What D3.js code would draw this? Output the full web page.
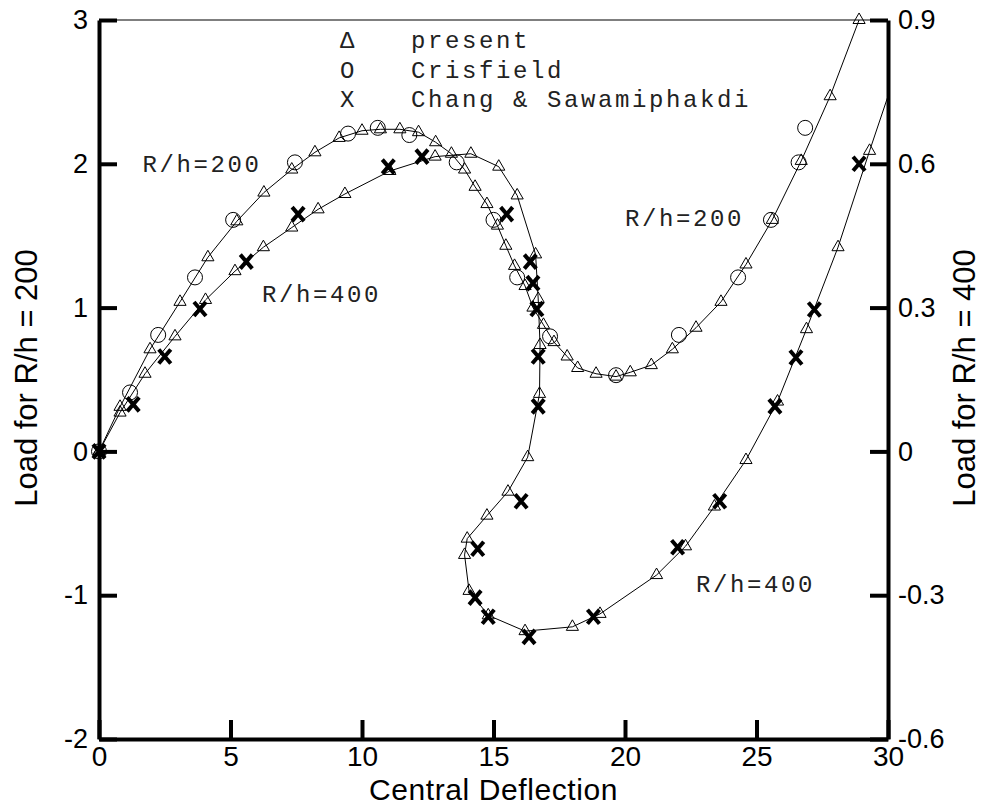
<!DOCTYPE html>
<html>
<head>
<meta charset="utf-8">
<script src="https://cdn.jsdelivr.net/npm/d3@7"></script>
<style>
    body { margin: 0; background: #fff; }
    svg { display: block; }
</style>
</head>
<body>
<svg id="chart" width="981" height="805"></svg>
<script>
// rozsahy os a popisky tiku
const xDomain = [0, 30];
const yLeftDomain = [-2, 3];
const yRightDomain = [-0.6, 0.9];
const xTicks = [0, 5, 10, 15, 20, 25, 30];
const yLeftTicks = [-2, -1, 0, 1, 2, 3];
const yRightTicks = [-0.6, -0.3, 0, 0.3, 0.6, 0.9];

// R/h = 200, present (leva osa) - [deflection, load]
const present200 = [
    [0, 0], [0.8, 0.31], [1.94, 0.71], [3.08, 1.04], [4.14, 1.35], [5.24, 1.60],
    [6.27, 1.80], [7.33, 1.96], [8.21, 2.08], [9.13, 2.18], [10.0, 2.23], [10.7, 2.24],
    [11.44, 2.24], [12.15, 2.22], [12.8, 2.15], [13.4, 2.07], [13.9, 1.96], [14.3, 1.84],
    [14.75, 1.72], [15.15, 1.57], [15.47, 1.43], [15.8, 1.29], [16.2, 1.15], [16.5, 1.0],
    [16.9, 0.88], [17.3, 0.76], [17.8, 0.66], [18.2, 0.58], [18.9, 0.54], [19.66, 0.52],
    [20.2, 0.55], [21.0, 0.60], [21.8, 0.71], [22.7, 0.86], [23.65, 1.04], [24.6, 1.30],
    [25.6, 1.61], [26.7, 2.02], [27.8, 2.47], [28.9, 3.0]
];
// R/h = 200, Crisfield (leva osa)
const crisfield200 = [
    [0, 0], [1.18, 0.41], [2.25, 0.81], [3.65, 1.21], [5.1, 1.61], [7.45, 2.01],
    [9.47, 2.21], [10.6, 2.25], [11.8, 2.2], [13.6, 2.01], [15.0, 1.61], [15.9, 1.21],
    [17.15, 0.80], [19.66, 0.53], [22.05, 0.81], [24.3, 1.21], [25.55, 1.61],
    [26.6, 2.01], [26.85, 2.25]
];
// R/h = 400, present (prava osa)
const present400 = [
    [0, 0], [0.8, 0.081], [1.75, 0.162], [2.89, 0.24], [4.05, 0.316], [5.17, 0.376],
    [6.25, 0.426], [7.33, 0.467], [8.33, 0.505], [9.35, 0.537], [11.06, 0.585],
    [12.78, 0.615], [14.14, 0.621], [15.2, 0.594], [15.9, 0.534], [16.6, 0.411],
    [16.7, 0.318], [16.77, 0.222], [16.75, 0.12], [16.3, -0.012], [15.55, -0.084],
    [14.75, -0.134], [14.0, -0.182], [13.9, -0.216], [14.07, -0.291], [14.8, -0.342],
    [16.2, -0.375], [18.0, -0.366], [19.05, -0.339], [21.2, -0.258], [22.3, -0.198],
    [23.4, -0.115], [24.6, -0.018], [25.8, 0.104], [26.9, 0.255], [28.1, 0.426],
    [29.3, 0.627], [30.3, 0.79]
];
// R/h = 400, Chang & Sawamiphakdi (prava osa)
const chang400 = [
    [0, 0], [1.3, 0.098], [2.5, 0.198], [3.84, 0.297], [5.6, 0.396], [7.57, 0.495],
    [11.0, 0.594], [12.28, 0.615], [15.5, 0.495], [16.4, 0.396], [16.5, 0.351],
    [16.65, 0.297], [16.7, 0.198], [16.7, 0.094], [16.05, -0.104], [14.4, -0.203],
    [14.3, -0.305], [14.8, -0.345], [16.35, -0.387], [18.8, -0.345], [22.0, -0.2],
    [23.6, -0.104], [25.7, 0.094], [26.5, 0.196], [27.2, 0.296], [28.9, 0.6]
];

// popisky krivek a legenda
const curveLabels = [
    {text: "R/h=200", x: 1.65, y: 1.94},
    {text: "R/h=400", x: 6.2, y: 1.04},
    {text: "R/h=200", x: 20.0, y: 1.57},
    {text: "R/h=400", x: 22.7, y: -0.98}
];
const legendSymbols = ["\u0394", "O", "X"];
const legendNames = ["present", "Crisfield", "Chang & Sawamiphakdi"];

const svg = d3.select("#chart");
const plotLeft = 99, plotRight = 888, plotTop = 20, plotBottom = 739;

const x = d3.scaleLinear().domain(xDomain).range([plotLeft, plotRight]);
const yL = d3.scaleLinear().domain(yLeftDomain).range([plotBottom, plotTop]);
const yR = d3.scaleLinear().domain(yRightDomain).range([plotBottom, plotTop]);

svg.append("clipPath").attr("id", "plotClip")
    .append("rect")
    .attr("x", plotLeft).attr("y", plotTop)
    .attr("width", plotRight - plotLeft).attr("height", plotBottom - plotTop);

// horni tenka hrana ramecku
svg.append("line")
    .attr("x1", plotLeft).attr("x2", plotRight)
    .attr("y1", plotTop).attr("y2", plotTop)
    .attr("stroke", "#000").attr("stroke-width", 1.2);

const tickFont = "'Liberation Sans', Arial, sans-serif";
const narrowFont = "'Liberation Sans Narrow', 'Liberation Sans', sans-serif";

function styleAxis(g) {
    g.select(".domain").attr("stroke-width", 4);
    g.selectAll(".tick line").attr("stroke-width", 4);
    g.selectAll(".tick text")
        .attr("fill", "#000")
        .style("font-family", tickFont)
        .style("font-size", "27px");
}

svg.append("g")
    .attr("transform", `translate(${plotLeft},0)`)
    .call(d3.axisLeft(yL).tickValues(yLeftTicks).tickFormat(d => String(d))
        .tickSize(-18).tickSizeOuter(0).tickPadding(11))
    .call(styleAxis);

svg.append("g")
    .attr("transform", `translate(${plotRight},0)`)
    .call(d3.axisRight(yR).tickValues(yRightTicks).tickFormat(d => String(d))
        .tickSize(-18).tickSizeOuter(0).tickPadding(10))
    .call(styleAxis);

svg.append("g")
    .attr("transform", `translate(0,${plotBottom})`)
    .call(d3.axisBottom(x).tickValues(xTicks).tickFormat(d => String(d))
        .tickSize(-19).tickSizeOuter(0).tickPadding(7))
    .call(styleAxis)
    .call(g => g.selectAll(".tick text")
        .style("font-family", narrowFont)
        .style("font-size", "28px"));

// nazvy os
svg.append("text")
    .attr("transform", "translate(37,378) rotate(-90)")
    .attr("text-anchor", "middle")
    .style("font-family", tickFont).style("font-size", "31px")
    .text("Load for R/h = 200");

svg.append("text")
    .attr("transform", "translate(975,378) rotate(-90)")
    .attr("text-anchor", "middle")
    .style("font-family", tickFont).style("font-size", "31px")
    .text("Load for R/h = 400");

svg.append("text")
    .attr("x", (plotLeft + plotRight) / 2).attr("y", 800)
    .attr("text-anchor", "middle")
    .style("font-family", narrowFont)
    .style("font-size", "30px")
    .style("letter-spacing", "0.6px")
    .text("Central Deflection");

// krivky
const lineL = d3.line().x(d => x(d[0])).y(d => yL(d[1]));
const lineR = d3.line().x(d => x(d[0])).y(d => yR(d[1]));

const plot = svg.append("g");
plot.append("path").datum(present200)
    .attr("clip-path", "url(#plotClip)")
    .attr("d", lineL).attr("fill", "none").attr("stroke", "#000").attr("stroke-width", 1);
plot.append("path").datum(present400)
    .attr("clip-path", "url(#plotClip)")
    .attr("d", lineR).attr("fill", "none").attr("stroke", "#000").attr("stroke-width", 1);

const tri = d3.symbol().type(d3.symbolTriangle).size(64);
const inside = d => d[0] >= xDomain[0] && d[0] <= xDomain[1];

plot.selectAll(".tri200").data(present200.filter(inside)).join("path")
    .attr("class", "tri200")
    .attr("transform", d => `translate(${x(d[0])},${yL(d[1])})`)
    .attr("d", tri).attr("fill", "none").attr("stroke", "#000").attr("stroke-width", 1);

plot.selectAll(".tri400").data(present400.filter(inside)).join("path")
    .attr("class", "tri400")
    .attr("transform", d => `translate(${x(d[0])},${yR(d[1])})`)
    .attr("d", tri).attr("fill", "none").attr("stroke", "#000").attr("stroke-width", 1);

plot.selectAll(".cris").data(crisfield200).join("circle")
    .attr("class", "cris")
    .attr("cx", d => x(d[0])).attr("cy", d => yL(d[1])).attr("r", 7.5)
    .attr("fill", "none").attr("stroke", "#000").attr("stroke-width", 1);

plot.selectAll(".chang").data(chang400).join("path")
    .attr("class", "chang")
    .attr("transform", d => `translate(${x(d[0])},${yR(d[1])})`)
    .attr("d", "M-6,-7L6,7M6,-7L-6,7")
    .attr("fill", "none").attr("stroke", "#000").attr("stroke-width", 4);

// popisky krivek
const monoFont = "'Liberation Mono', 'Courier New', monospace";
svg.selectAll(".clabel").data(curveLabels).join("text")
    .attr("class", "clabel")
    .attr("x", d => x(d.x))
    .attr("y", d => yL(d.y))
    .style("font-family", monoFont).style("font-size", "24px")
    .style("letter-spacing", "2.6px").attr("fill", "#222")
    .text(d => d.text);

// legenda
const legend = svg.append("g").attr("transform", "translate(340,48)");
legend.selectAll(".lsym").data(legendSymbols).join("text")
    .attr("class", "lsym")
    .attr("x", 0).attr("y", (d, i) => i * 29.5)
    .style("font-family", monoFont).style("font-size", "24px").attr("fill", "#222")
    .text(d => d);
legend.selectAll(".lname").data(legendNames).join("text")
    .attr("class", "lname")
    .attr("x", 71).attr("y", (d, i) => i * 29.5)
    .style("font-family", monoFont).style("font-size", "24px")
    .style("letter-spacing", "2.6px").attr("fill", "#222")
    .style("white-space", "pre")
    .text(d => d);
</script>
</body>
</html>
